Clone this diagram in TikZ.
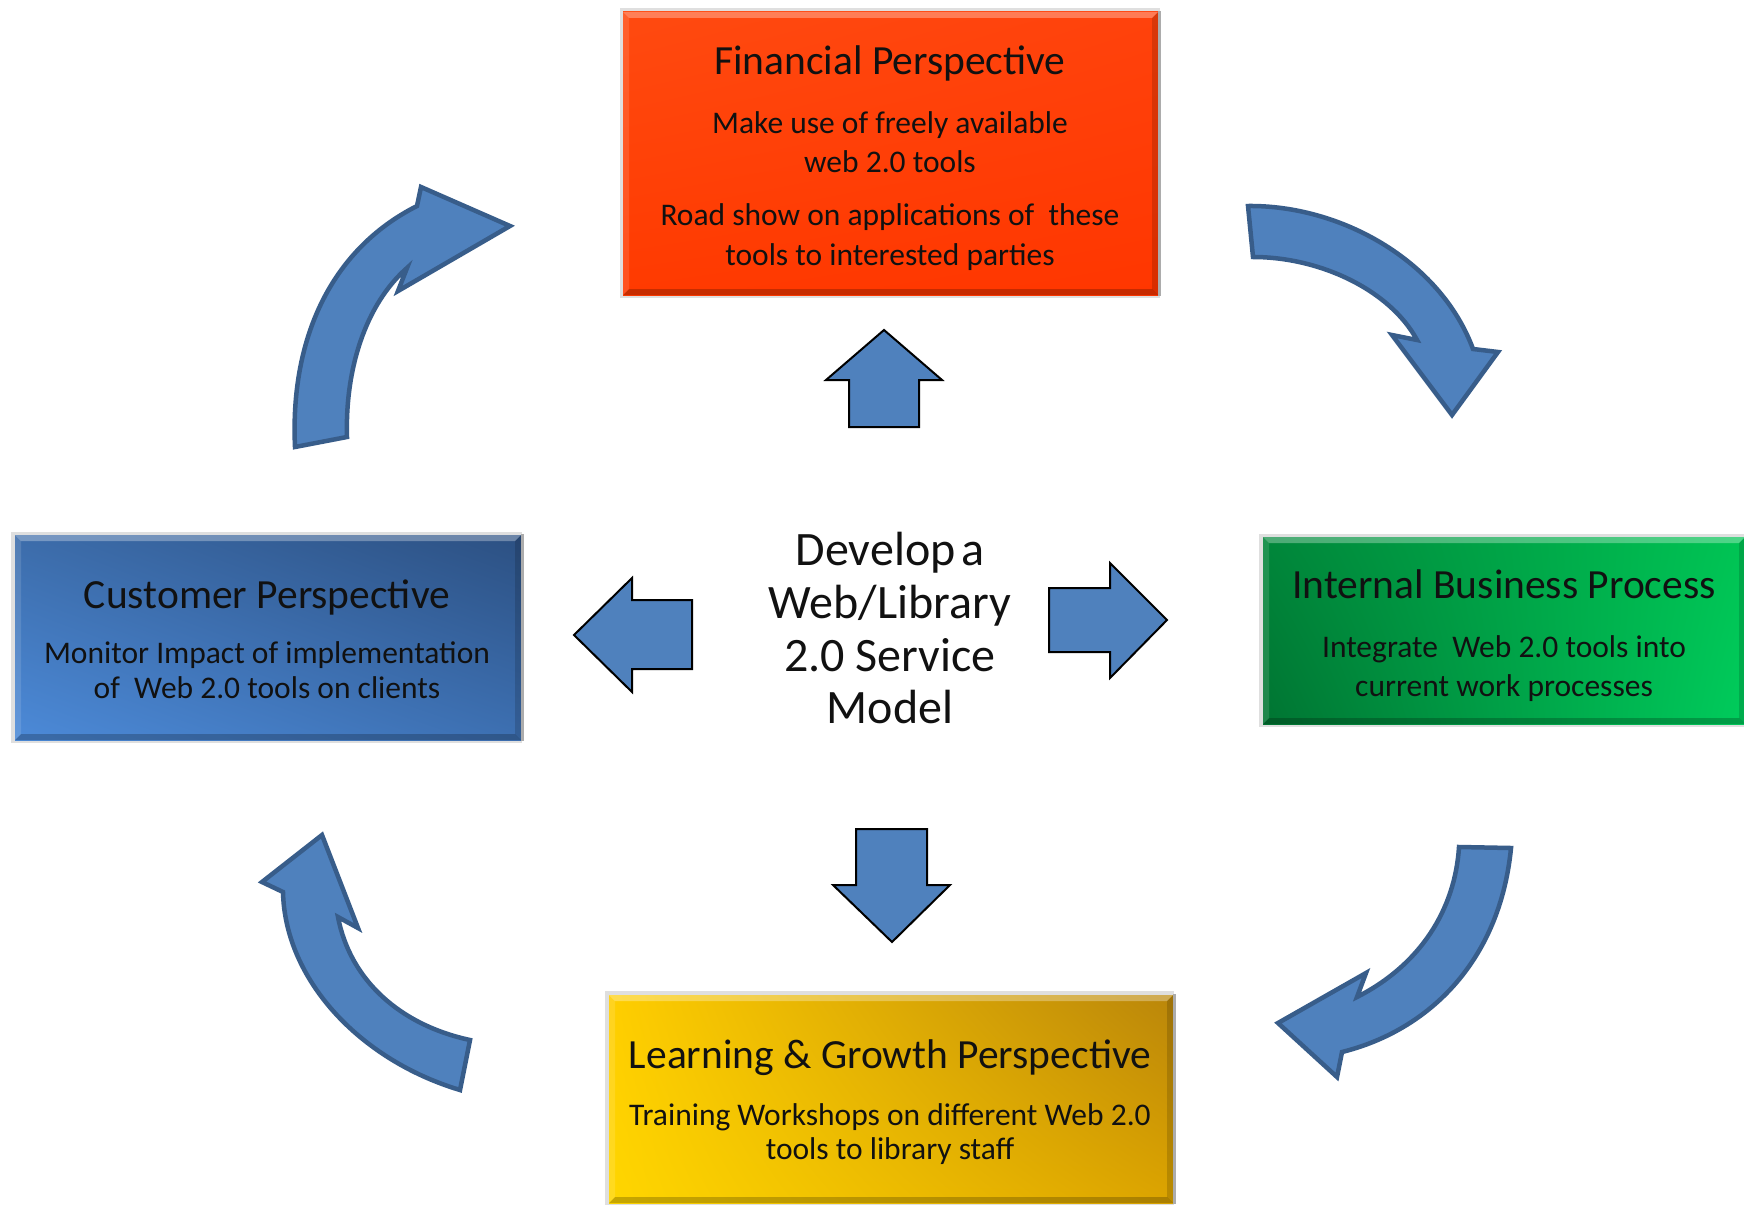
\documentclass[tikz,border=0pt]{standalone}
\usepackage{fontspec}
\setmainfont{Carlito}
\usetikzlibrary{calc,shadings}
\definecolor{arrowblue}{HTML}{4F81BD}
\definecolor{arrowedge}{HTML}{385D8A}
\definecolor{txt}{HTML}{111111}
\definecolor{finUL}{RGB}{255,74,16}
\definecolor{finUR}{RGB}{255,66,12}
\definecolor{finLL}{RGB}{255,58,0}
\definecolor{finLR}{RGB}{255,54,0}
\definecolor{custUL}{RGB}{60,108,170}
\definecolor{custUR}{RGB}{44,80,130}
\definecolor{custLL}{RGB}{76,138,216}
\definecolor{custLR}{RGB}{61,112,178}
\definecolor{intUL}{RGB}{0,134,58}
\definecolor{intUR}{RGB}{0,196,84}
\definecolor{intLL}{RGB}{0,116,50}
\definecolor{intLR}{RGB}{0,204,92}
\definecolor{learnUL}{RGB}{255,206,0}
\definecolor{learnUR}{RGB}{186,134,10}
\definecolor{learnLL}{RGB}{255,214,0}
\definecolor{learnLR}{RGB}{220,164,0}
\newcommand\mybevel[1]{%
  \fill[white,opacity=.30] (#1.north west) -- (#1.north east) -- ($(#1.north east)+(-6,6)$) -- ($(#1.north west)+(6,6)$) -- cycle;
  \fill[black,opacity=.22] (#1.south west) -- (#1.south east) -- ($(#1.south east)+(-6,-6)$) -- ($(#1.south west)+(6,-6)$) -- cycle;
  \fill[white,opacity=.12] (#1.north west) -- ($(#1.north west)+(6,6)$) -- ($(#1.south west)+(6,-6)$) -- (#1.south west) -- cycle;
  \fill[black,opacity=.15] (#1.north east) -- ($(#1.north east)+(-6,6)$) -- ($(#1.south east)+(-6,-6)$) -- (#1.south east) -- cycle;
  \draw[gray!65,line width=2.5pt] ($(#1.north east)+(1.3,-1)$) -- ($(#1.south east)+(1.3,1)$);
}
\begin{document}
\begin{tikzpicture}[x=1pt,y=-1pt,
  panel/.style={inner sep=0pt,outer sep=0pt,draw=none},
  frame/.style={inner sep=0pt,outer sep=0pt,draw=none,fill=gray!25},
  ttl/.style={anchor=base,inner sep=0pt,text=txt,font=\fontsize{41.5}{48}\selectfont},
  bdy/.style={anchor=base,inner sep=0pt,text=txt,font=\fontsize{31.5}{38}\selectfont},
  ctr/.style={anchor=base,inner sep=0pt,text=txt,font=\fontsize{48}{53}\selectfont},
  blockarrow/.style={fill=arrowblue,draw=black,line width=2pt,line join=miter},
  curvearrow/.style={fill=arrowblue,draw=arrowedge,line width=4.5pt,line join=miter}]
\fill[white] (0,0) rectangle (1744,1204);
\useasboundingbox (0,0) rectangle (1744,1204);

% ---------- boxes ----------
\node[frame,minimum width=540pt,minimum height=289pt] (finframe) at (889.5,153) {};
\node[panel,minimum width=535pt,minimum height=283pt,
  upper left=finUL,upper right=finUR,lower left=finLL,lower right=finLR] (fin) at (890.5,153.5) {};
\mybevel{fin}

\node[frame,minimum width=511pt,minimum height=211pt] (custframe) at (266.5,637) {};
\node[panel,minimum width=506pt,minimum height=205pt,
  upper left=custUL,upper right=custUR,lower left=custLL,lower right=custLR] (cust) at (268,637.5) {};
\mybevel{cust}

\node[frame,minimum width=487pt,minimum height=193pt] (intframe) at (1502,630) {};
\node[panel,minimum width=482pt,minimum height=187pt,
  upper left=intUL,upper right=intUR,lower left=intLL,lower right=intLR] (int) at (1504,630.5) {};
\mybevel{int}

\node[frame,minimum width=569pt,minimum height=215pt] (learnframe) at (889.5,1098) {};
\node[panel,minimum width=564pt,minimum height=208pt,
  upper left=learnUL,upper right=learnUR,lower left=learnLL,lower right=learnLR] (learn) at (891,1099) {};
\mybevel{learn}

% ---------- box texts ----------
\node[ttl] (finT)  at (890,75)  {Financial Perspective};
\node[bdy] (finB1) at (890,134) {Make use of freely available};
\node[bdy] (finB2) at (890,172) {web 2.0 tools};
\node[bdy] (finB3) at (890,225) {Road show on applications of\ \ these};
\node[bdy] (finB4) at (890,265) {tools to interested parties};

\node[ttl] (custT)  at (267,608) {Customer Perspective};
\node[bdy] (custB1) at (267,663) {Monitor Impact of implementation};
\node[bdy] (custB2) at (267,698) {of\ \ Web 2.0 tools on clients};

\node[ttl] (intT)  at (1504,598) {Internal Business Process};
\node[bdy] (intB1) at (1504,657) {Integrate\ \ Web 2.0 tools into};
\node[bdy] (intB2) at (1504,696) {current work processes};

\node[ttl] (learnT)  at (890,1068) {Learning \& Growth Perspective};
\node[bdy] (learnB1) at (890,1125) {Training Workshops on different Web 2.0};
\node[bdy] (learnB2) at (890,1159) {tools to library staff};

% ---------- centre text ----------
\node[ctr] (c1) at (890,565) {Develop\hspace{0.12em}a};
\node[ctr] (c2) at (890,618) {Web/Library};
\node[ctr] (c3) at (890,671) {2.0 Service};
\node[ctr] (c4) at (890,723) {Model};

% ---------- straight block arrows ----------
\draw[blockarrow] (884,330) -- (942,380) -- (919,380) -- (919,427) -- (849,427) -- (849,380) -- (826,380) -- cycle;
\draw[blockarrow] (892,942) -- (950,885) -- (927,885) -- (927,829) -- (856,829) -- (856,885) -- (833,885) -- cycle;
\draw[blockarrow] (574,635) -- (632,578) -- (632,600) -- (692,600) -- (692,669) -- (632,669) -- (632,692) -- cycle;
\draw[blockarrow] (1167,620) -- (1110,563) -- (1110,588) -- (1049,588) -- (1049,652) -- (1110,652) -- (1110,678) -- cycle;

% ---------- curved arrows ----------
\draw[curvearrow] (295,447) .. controls (290,340) and (330,250) .. (417,206)
  -- (421,187) -- (510,226) -- (398,291) -- (407,268)
  .. controls (365,305) and (345,370) .. (347,437) -- cycle;
\draw[curvearrow] (1248,206) .. controls (1340,205) and (1440,260) .. (1473,349)
  -- (1498,352) -- (1452,415) -- (1392,335) -- (1417,340)
  .. controls (1390,290) and (1320,257) .. (1253,257) -- cycle;
\draw[curvearrow] (1511,848) .. controls (1500,960) and (1430,1030) .. (1342,1052)
  -- (1337,1077) -- (1278,1023) -- (1366,973) -- (1357,997)
  .. controls (1420,965) and (1455,910) .. (1459,847) -- cycle;
\draw[curvearrow] (460,1090) .. controls (360,1060) and (285,980) .. (283,892)
  -- (262,882) -- (322,835) -- (358,928) -- (338,917)
  .. controls (350,980) and (400,1025) .. (470,1040) -- cycle;
\end{tikzpicture}
\end{document}
